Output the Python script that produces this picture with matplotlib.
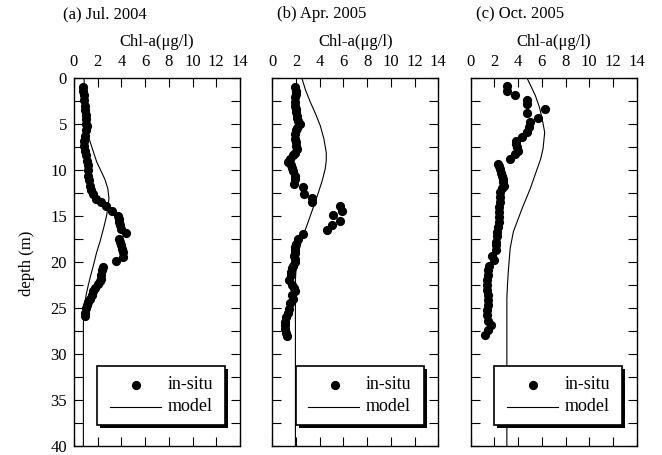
import matplotlib

matplotlib.use("Agg")
import matplotlib.pyplot as plt
from matplotlib.patches import Rectangle
from matplotlib.ticker import MultipleLocator

plt.rcParams["font.family"] = ["Liberation Serif", "DejaVu Serif"]
plt.rcParams["font.size"] = 12

# ---- data (depth in m, Chl-a in ug/l) ----
titles = ["(a) Jul. 2004", "(b) Apr. 2005", "(c) Oct. 2005"]

insitu_depth_a = [1.0, 1.4, 1.9, 2.4, 3.0, 3.5, 4.0, 4.5, 5.0, 5.2, 5.7, 6.3, 6.8, 7.4, 7.9,
                  8.4, 9.0, 9.5, 10.0, 10.6, 11.1, 11.7, 12.2, 12.6, 13.1, 13.5, 13.9, 14.5,
                  15.0, 15.3, 15.7, 16.0, 16.4, 16.9, 17.5, 17.8, 18.2, 18.6, 18.9, 19.5,
                  19.9, 20.5, 20.9, 21.4, 21.8, 22.1, 22.4, 22.8, 23.2, 23.6, 24.0, 24.3,
                  24.7, 25.0, 25.5, 25.9]
insitu_chl_a = [0.79, 0.8, 0.84, 0.88, 0.93, 0.95, 0.98, 1.0, 1.05, 1.07, 1.0, 0.93, 0.88,
                0.84, 0.9, 1.0, 1.1, 1.2, 1.2, 1.2, 1.25, 1.35, 1.45, 1.57, 1.85, 2.25, 2.7,
                3.18, 3.74, 3.8, 3.83, 3.9, 4.0, 4.4, 3.83, 3.9, 4.0, 4.05, 4.1, 4.1, 3.55,
                2.44, 2.38, 2.3, 2.25, 2.2, 2.0, 1.77, 1.6, 1.49, 1.35, 1.2, 1.1, 1.0, 0.95,
                0.93]

insitu_depth_b = [1.0, 1.4, 1.7, 2.1, 2.6, 3.0, 3.4, 3.7, 4.1, 4.4, 4.7, 5.0, 5.4, 5.7, 6.1,
                  6.6, 7.0, 7.4, 7.7, 8.1, 8.4, 8.8, 9.1, 9.5, 9.8, 10.1, 10.6, 11.0, 11.5,
                  11.9, 12.6, 13.0, 13.5, 13.9, 14.5, 14.9, 15.5, 16.0, 16.5, 17.0, 17.5,
                  18.0, 18.4, 18.7, 19.0, 19.3, 19.7, 20.0, 20.4, 20.7, 21.1, 21.4, 22.0,
                  22.5, 22.8, 23.1, 23.6, 24.0, 24.5, 25.1, 25.5, 26.0, 26.5, 26.9, 27.3,
                  27.7, 28.0]
insitu_chl_b = [1.92, 1.97, 2.0, 1.95, 1.92, 1.95, 1.98, 2.0, 2.05, 2.1, 2.2, 2.3, 2.1, 2.0,
                1.95, 1.92, 1.98, 2.03, 2.06, 1.95, 1.78, 1.5, 1.36, 1.56, 1.7, 1.78, 1.92,
                1.88, 1.83, 2.62, 2.7, 3.33, 3.33, 5.67, 5.87, 5.16, 5.73, 5.02, 4.6, 2.62,
                2.2, 2.0, 1.95, 1.92, 1.9, 1.86, 1.9, 1.92, 1.75, 1.64, 1.6, 1.56, 1.44,
                1.64, 1.8, 1.92, 1.64, 1.78, 1.5, 1.44, 1.3, 1.16, 1.1, 1.07, 1.1, 1.15,
                1.22]

insitu_depth_c = [0.83, 1.37, 1.85, 2.35, 2.8, 3.36, 3.8, 4.37, 4.8, 5.35, 5.9, 6.4, 6.9,
                  7.2, 7.5, 7.9, 8.3, 8.8, 9.3, 9.6, 9.9, 10.3, 10.6, 11.0, 11.3, 11.7,
                  12.0, 12.4, 12.9, 13.5, 14.0, 14.6, 15.1, 15.7, 16.2, 16.7, 17.2, 17.8,
                  18.2, 18.7, 19.3, 19.8, 20.4, 20.9, 21.4, 22.0, 22.5, 23.0, 23.6, 24.1,
                  24.7, 25.2, 25.8, 26.4, 26.9, 27.4, 27.9]
insitu_chl_c = [3.05, 3.1, 3.74, 4.79, 4.74, 6.29, 4.79, 5.64, 5.0, 4.88, 4.74, 4.31, 3.83,
                3.85, 3.9, 4.0, 3.7, 3.3, 2.3, 2.38, 2.43, 2.55, 2.66, 2.7, 2.72, 2.77,
                2.6, 2.49, 2.45, 2.43, 2.4, 2.38, 2.38, 2.38, 2.3, 2.23, 2.2, 2.15, 2.12,
                2.1, 1.81, 2.0, 1.58, 1.5, 1.44, 1.4, 1.36, 1.4, 1.44, 1.44, 1.44, 1.4,
                1.36, 1.5, 1.72, 1.44, 1.24]

model_depth_a = [0, 3, 5, 6.3, 7.5, 9.1, 11.0, 12.0, 13.1, 14.9, 16.3, 17.8, 19.0, 20.4,
                 21.5, 22.5, 23.4, 24.3, 25.5, 27, 40]
model_chl_a = [0.85, 0.9, 1.0, 1.2, 1.5, 1.91, 2.6, 2.85, 2.95, 2.76, 2.5, 2.19, 1.9, 1.63,
               1.4, 1.21, 1.05, 0.93, 0.82, 0.79, 0.79]

model_depth_b = [0, 1.3, 2.6, 3.9, 5.2, 6.6, 8.1, 9.0, 9.9, 11.2, 12.4, 13.9, 15.0, 16.1,
                 17.5, 19.0, 20.7, 22, 40]
model_chl_b = [2.49, 2.8, 3.2, 3.65, 4.05, 4.35, 4.55, 4.55, 4.46, 4.2, 3.9, 3.5, 3.2, 2.9,
               2.49, 2.2, 2.0, 1.95, 1.95]

model_depth_c = [0, 1.9, 3.2, 4.4, 5.9, 7.7, 8.8, 9.9, 12.0, 14.2, 15.5, 16.7, 18.5, 20.7,
                 22.5, 24, 40]
model_chl_c = [4.75, 5.45, 5.8, 6.02, 6.24, 6.1, 5.9, 5.6, 5.03, 4.33, 3.95, 3.6, 3.33, 3.19,
               3.1, 3.05, 3.05]

panels = [
    (insitu_chl_a, insitu_depth_a, model_chl_a, model_depth_a),
    (insitu_chl_b, insitu_depth_b, model_chl_b, model_depth_b),
    (insitu_chl_c, insitu_depth_c, model_chl_c, model_depth_c),
]

W, H = 662, 455
fig = plt.figure(figsize=(W / 100, H / 100), dpi=100)

lefts = [74, 272.3, 470.7]
ax_w, ax_top, ax_bot = 166, 78, 446

for i, (chl, dep, mchl, mdep) in enumerate(panels):
    x0 = lefts[i]
    ax = fig.add_axes([x0 / W, 1 - ax_bot / H, ax_w / W, (ax_bot - ax_top) / H])
    ax.plot(chl, dep, "o", color="black", ms=5.6, mec="black", zorder=3)
    ax.plot(mchl, mdep, "-", color="black", lw=0.8, zorder=2)

    ax.set_xlim(0, 14)
    ax.set_ylim(40, 0)
    ax.xaxis.set_major_locator(MultipleLocator(2))
    ax.yaxis.set_major_locator(MultipleLocator(5))
    ax.yaxis.set_minor_locator(MultipleLocator(2.5))
    ax.tick_params(which="both", direction="in", top=True, bottom=True, left=True,
                   right=True, length=6.5, width=0.8)
    ax.tick_params(axis="x", labeltop=True, labelbottom=False, pad=6, labelsize=12)
    ax.tick_params(axis="y", labelleft=(i == 0), pad=5, labelsize=12)
    for sp in ax.spines.values():
        sp.set_linewidth(1.0)

    # legend box with a hard black drop shadow
    bx, by, bw, bh = 0.14, 0.058, 0.772, 0.16
    ax.add_patch(Rectangle((bx + 0.018, by - 0.009), bw, bh, transform=ax.transAxes,
                           fc="black", ec="black", lw=0, zorder=5))
    ax.add_patch(Rectangle((bx, by), bw, bh, transform=ax.transAxes,
                           fc="white", ec="black", lw=1.2, zorder=6))
    ax.plot([0.375], [0.166], "o", color="black", ms=5.6, transform=ax.transAxes, zorder=7)
    ax.plot([0.216, 0.525], [0.107, 0.107], "-", color="black", lw=0.8,
            transform=ax.transAxes, zorder=7)
    ax.text(0.565, 0.168, "in-situ", transform=ax.transAxes, va="center", ha="left",
            fontsize=13, zorder=7)
    ax.text(0.565, 0.108, "model", transform=ax.transAxes, va="center", ha="left",
            fontsize=13, zorder=7)

    fig.text((x0 + ax_w / 2) / W, 1 - 42 / H, "Chl-a(\u03bcg/l)", ha="center", va="center",
             fontsize=12)

title_x = [63, 277, 476]
for tx, t in zip(title_x, titles):
    fig.text(tx / W, 1 - 14 / H, t, ha="left", va="center", fontsize=12)

fig.text(27 / W, 1 - 263 / H, "depth (m)", rotation=90, ha="center", va="center",
         fontsize=12)

fig.savefig("out.png", dpi=100)
